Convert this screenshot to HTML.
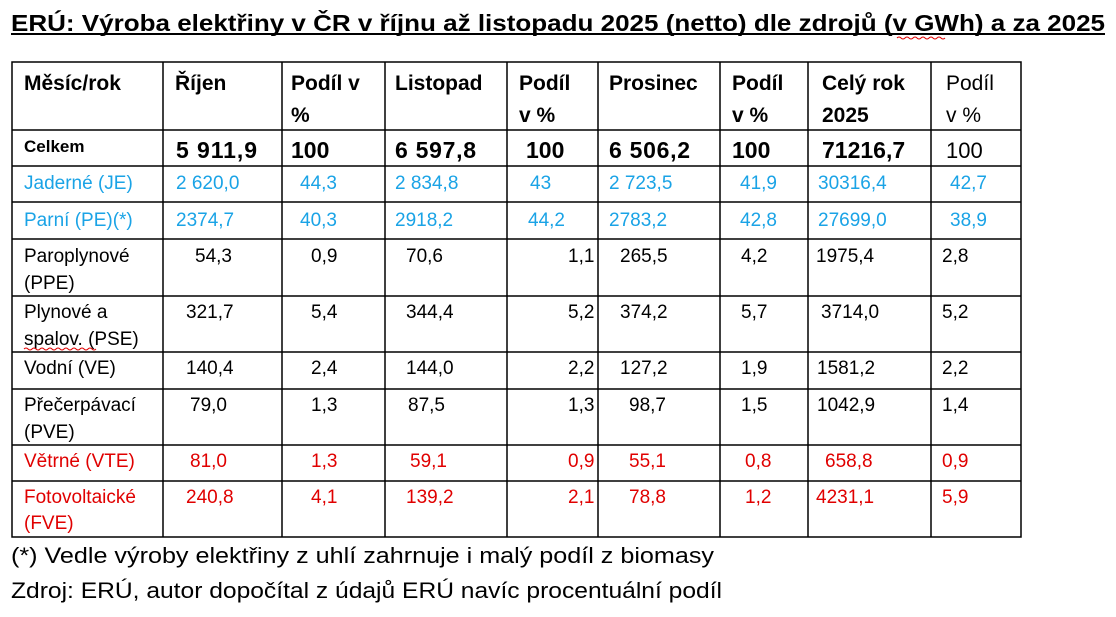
<!DOCTYPE html>
<html><head><meta charset="utf-8"><style>
html,body{margin:0;padding:0;background:#fff;}
svg{display:block;}
text{font-family:"Liberation Sans",sans-serif;}
.h{font-weight:bold;font-size:21px;fill:#000}
.b{font-weight:bold;font-size:23px;fill:#000}
.n{font-size:19px;fill:#000}
.bl{font-size:19px;fill:#1aa3e6}
.r{font-size:19px;fill:#e00000}
</style></head><body>
<svg width="1116" height="617" viewBox="0 0 1116 617">
<text x="11" y="31" font-size="23" font-weight="bold" textLength="1094" lengthAdjust="spacingAndGlyphs">ERÚ: Výroba elektřiny v ČR v říjnu až listopadu 2025 (netto) dle zdrojů (v GWh) a za 2025</text>
<rect x="11" y="33" width="1094" height="2" fill="#000"/>
<path d="M897 38 q2 -2 4 0 t4 0 t4 0 t4 0 t4 0 t4 0 t4 0 t4 0 t4 0 t4 0 t4 0 t4 0" stroke="#e00000" fill="none" stroke-width="1"/>
<g stroke="#000" stroke-width="1.5" fill="none">
<rect x="12" y="62" width="1009" height="475"/>
<path d="M163 62V537M282 62V537M385 62V537M507 62V537M598 62V537M720 62V537M808 62V537M931 62V537"/>
<path d="M12 130H1021M12 166H1021M12 202H1021M12 239H1021M12 296H1021M12 352H1021M12 389H1021M12 445H1021M12 481H1021"/>
</g>
<g class="h">
<text x="24" y="90">Měsíc/rok</text>
<text x="175" y="90">Říjen</text>
<text x="291" y="90">Podíl v</text><text x="291" y="122">%</text>
<text x="395" y="90">Listopad</text>
<text x="519" y="90">Podíl</text><text x="519" y="122">v %</text>
<text x="609" y="90">Prosinec</text>
<text x="732" y="90">Podíl</text><text x="732" y="122">v %</text>
<text x="822" y="90">Celý rok</text><text x="822" y="122">2025</text>
</g>
<text x="946" y="90" font-size="21">Podíl</text><text x="946" y="122" font-size="21">v %</text>
<text x="24" y="152" font-size="17" font-weight="bold">Celkem</text>
<g class="b">
<text x="176" y="158" textLength="81">5 911,9</text><text x="291" y="158">100</text>
<text x="395" y="158" textLength="81">6 597,8</text><text x="526" y="158">100</text>
<text x="609" y="158" textLength="81">6 506,2</text><text x="732" y="158">100</text>
<text x="822" y="158">71216,7</text>
</g>
<text x="946" y="158" font-size="22">100</text>
<g class="bl">
<text x="24" y="189">Jaderné (JE)</text><text x="176" y="189">2 620,0</text><text x="300" y="189">44,3</text>
<text x="395" y="189">2 834,8</text><text x="530" y="189">43</text><text x="609" y="189">2 723,5</text>
<text x="740" y="189">41,9</text><text x="818" y="189">30316,4</text><text x="950" y="189">42,7</text>
<text x="24" y="226">Parní (PE)(*)</text><text x="176" y="226">2374,7</text><text x="300" y="226">40,3</text>
<text x="395" y="226">2918,2</text><text x="528" y="226">44,2</text><text x="609" y="226">2783,2</text>
<text x="740" y="226">42,8</text><text x="818" y="226">27699,0</text><text x="950" y="226">38,9</text>
</g>
<g class="n">
<text x="24" y="262">Paroplynové</text><text x="24" y="289">(PPE)</text>
<text x="195" y="262">54,3</text><text x="311" y="262">0,9</text><text x="406" y="262">70,6</text><text x="568" y="262">1,1</text>
<text x="620" y="262">265,5</text><text x="741" y="262">4,2</text><text x="816" y="262">1975,4</text><text x="942" y="262">2,8</text>
<text x="24" y="318">Plynové a</text><text x="24" y="345">spalov.  (PSE)</text>
<text x="186" y="318">321,7</text><text x="311" y="318">5,4</text><text x="406" y="318">344,4</text><text x="568" y="318">5,2</text>
<text x="620" y="318">374,2</text><text x="741" y="318">5,7</text><text x="821" y="318">3714,0</text><text x="942" y="318">5,2</text>
<text x="24" y="374">Vodní (VE)</text>
<text x="186" y="374">140,4</text><text x="311" y="374">2,4</text><text x="406" y="374">144,0</text><text x="568" y="374">2,2</text>
<text x="620" y="374">127,2</text><text x="741" y="374">1,9</text><text x="817" y="374">1581,2</text><text x="942" y="374">2,2</text>
<text x="24" y="411">Přečerpávací</text><text x="24" y="438">(PVE)</text>
<text x="190" y="411">79,0</text><text x="311" y="411">1,3</text><text x="408" y="411">87,5</text><text x="568" y="411">1,3</text>
<text x="629" y="411">98,7</text><text x="741" y="411">1,5</text><text x="817" y="411">1042,9</text><text x="942" y="411">1,4</text>
</g>
<path d="M24 349 q2 -2 4 0 t4 0 t4 0 t4 0 t4 0 t4 0 t4 0 t4 0 t4 0 t4 0 t4 0 t4 0 t4 0 t4 0 t4 0 t4 0 t4 0 t4 0" stroke="#e00000" fill="none" stroke-width="1"/>
<g class="r">
<text x="24" y="467">Větrné (VTE)</text>
<text x="190" y="467">81,0</text><text x="311" y="467">1,3</text><text x="410" y="467">59,1</text><text x="568" y="467">0,9</text>
<text x="629" y="467">55,1</text><text x="745" y="467">0,8</text><text x="825" y="467">658,8</text><text x="942" y="467">0,9</text>
<text x="24" y="503">Fotovoltaické</text><text x="24" y="529">(FVE)</text>
<text x="186" y="503">240,8</text><text x="311" y="503">4,1</text><text x="406" y="503">139,2</text><text x="568" y="503">2,1</text>
<text x="629" y="503">78,8</text><text x="745" y="503">1,2</text><text x="816" y="503">4231,1</text><text x="942" y="503">5,9</text>
</g>
<text x="11" y="563" font-size="22" textLength="703" lengthAdjust="spacingAndGlyphs">(*) Vedle výroby elektřiny z uhlí zahrnuje i malý podíl z biomasy</text>
<text x="11" y="598" font-size="22" textLength="711" lengthAdjust="spacingAndGlyphs">Zdroj: ERÚ, autor dopočítal z údajů ERÚ navíc procentuální podíl</text>
</svg>
</body></html>
